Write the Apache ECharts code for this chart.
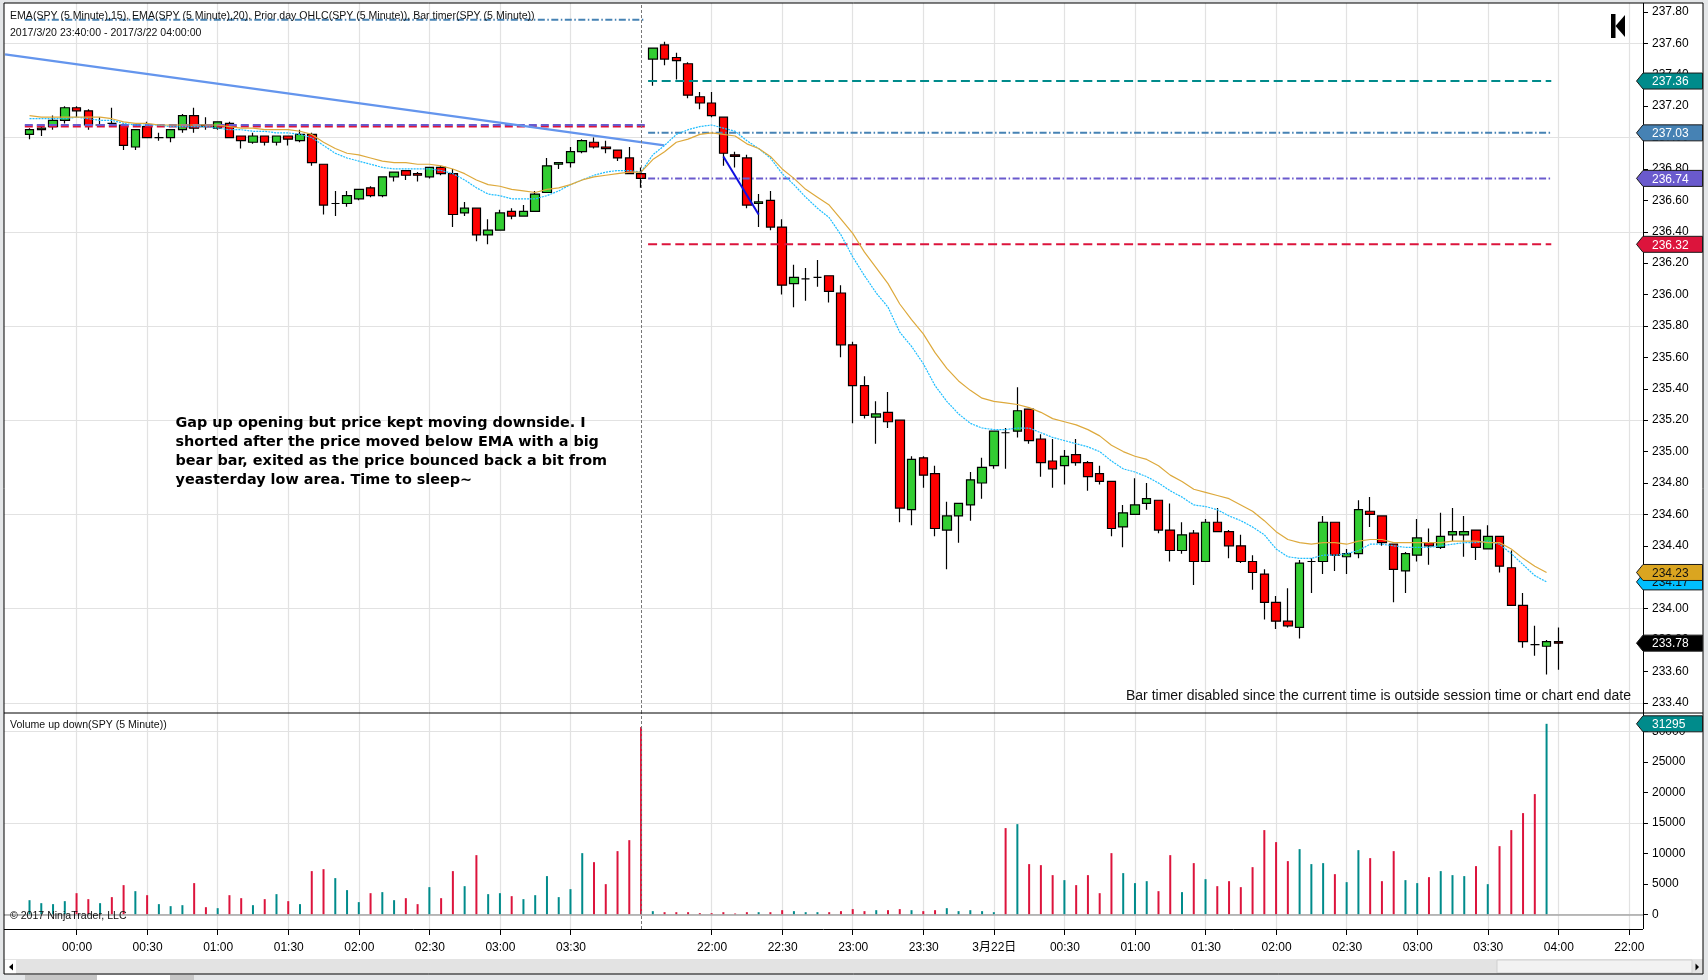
<!DOCTYPE html>
<html><head><meta charset="utf-8"><style>html,body{margin:0;padding:0;background:#E4E6E8}#c{width:1708px;height:980px}</style>
<script src="https://cdn.jsdelivr.net/npm/echarts@6/dist/echarts.min.js"></script></head>
<body><div id="c"></div>
<script>
const opens=[237.02,237.05,237.07,237.11,237.19,237.17,237.08,237.09,237.08,236.94,237.07,237.00,237.00,237.05,237.14,237.08,237.06,237.09,237.01,236.97,237.01,236.97,237.01,236.98,237.02,
236.83,236.58,236.58,236.61,236.68,236.63,236.75,236.79,236.77,236.75,236.81,236.77,236.52,236.55,236.38,236.41,236.53,236.50,236.53,236.65,236.83,236.84,236.91,236.97,236.94,236.92,236.87,236.77,
237.50,237.59,237.51,237.47,237.26,237.22,237.13,236.89,236.87,236.58,236.60,236.43,236.07,236.10,236.11,236.12,236.01,
235.68,235.42,235.22,235.25,235.20,234.63,234.96,234.86,234.50,234.59,234.66,234.80,234.91,235.12,235.13,235.27,235.08,234.94,234.91,234.98,234.93,234.86,234.81,234.52,234.60,234.67,234.69,234.50,234.37,234.48,234.30,234.55,234.49,234.40,234.30,
234.22,234.04,233.92,233.88,234.30,234.30,234.55,234.33,234.35,234.62,234.59,234.41,234.24,234.34,234.42,234.39,234.47,234.47,234.50,234.38,234.46,234.26,234.02,233.77,233.76,233.79];
const closes=[237.05,237.06,237.11,237.19,237.17,237.08,237.08,237.09,236.95,237.05,237.00,237.00,237.05,237.14,237.06,237.07,237.10,237.00,236.98,237.01,236.97,237.01,236.99,237.02,236.84,
236.57,236.58,236.63,236.67,236.63,236.75,236.78,236.76,236.76,236.81,236.77,236.51,236.55,236.38,236.41,236.52,236.50,236.53,236.64,236.82,236.84,236.91,236.98,236.94,236.93,236.87,236.77,236.74,
237.57,237.50,237.49,237.27,237.22,237.14,236.90,236.88,236.57,236.59,236.43,236.06,236.11,236.10,236.11,236.02,235.68,
235.42,235.23,235.24,235.19,234.64,234.95,234.85,234.51,234.59,234.67,234.82,234.90,235.13,235.12,235.26,235.07,234.93,234.89,234.97,234.93,234.84,234.81,234.51,234.61,234.66,234.70,234.50,234.37,234.47,234.30,234.55,234.49,234.40,234.30,234.23,
234.04,233.92,233.89,234.29,234.30,234.55,234.34,234.35,234.63,234.60,234.42,234.25,234.35,234.45,234.40,234.46,234.49,234.49,234.39,234.46,234.27,234.02,233.79,233.77,233.79,233.78];
const lows=[236.99,237.01,237.05,237.09,237.13,237.05,237.08,237.08,236.92,236.92,237.00,236.98,236.97,237.03,237.03,237.05,237.05,237.00,236.93,236.96,236.95,236.95,236.95,236.97,236.82,
236.51,236.50,236.56,236.60,236.62,236.62,236.72,236.73,236.72,236.74,236.76,236.43,236.50,236.34,236.32,236.41,236.48,236.50,236.53,236.65,236.80,236.81,236.90,236.93,236.90,236.85,236.77,236.68,
237.33,237.46,237.37,237.25,237.18,237.13,236.82,236.81,236.55,236.43,236.41,236.00,235.92,235.96,236.05,235.95,235.60,
235.18,235.21,235.05,235.15,234.55,234.53,234.77,234.46,234.25,234.42,234.56,234.70,234.89,234.89,235.09,235.05,234.84,234.77,234.79,234.91,234.75,234.79,234.46,234.39,234.60,234.63,234.48,234.30,234.35,234.15,234.30,234.49,234.32,234.29,234.12,
233.93,233.87,233.88,233.81,234.10,234.22,234.24,234.22,234.32,234.52,234.40,234.04,234.10,234.30,234.28,234.38,234.43,234.33,234.31,234.38,234.23,234.02,233.75,233.70,233.58,233.61];
const highs=[237.06,237.08,237.14,237.20,237.20,237.18,237.13,237.19,237.09,237.05,237.10,237.03,237.05,237.15,237.19,237.13,237.10,237.10,237.01,237.03,237.01,237.01,237.01,237.05,237.03,
236.83,236.66,236.66,236.67,236.69,236.75,236.78,236.79,236.78,236.81,236.82,236.80,236.59,236.55,236.48,236.54,236.55,236.57,236.66,236.87,236.84,236.94,236.99,237.00,236.98,236.92,236.94,236.81,
237.57,237.61,237.54,237.48,237.29,237.29,237.13,236.91,236.89,236.64,236.66,236.48,236.19,236.17,236.22,236.12,236.06,
235.70,235.48,235.32,235.38,235.20,234.97,234.97,234.91,234.68,234.67,234.87,234.96,235.13,235.15,235.41,235.27,235.11,235.08,235.01,235.08,234.94,234.91,234.81,234.66,234.83,234.80,234.69,234.67,234.55,234.50,234.57,234.64,234.50,234.47,234.34,
234.25,234.08,234.13,234.31,234.32,234.59,234.55,234.38,234.69,234.71,234.59,234.41,234.36,234.57,234.51,234.61,234.64,234.59,234.50,234.53,234.46,234.37,234.10,233.89,233.80,233.88];
const ema20=[237.14,237.13,237.13,237.13,237.13,237.13,237.13,237.12,237.10,237.09,237.09,237.08,237.08,237.08,237.08,237.08,237.08,237.07,237.06,237.06,237.05,237.05,237.05,237.04,237.02,
236.97,236.93,236.90,236.89,236.87,236.85,236.84,236.84,236.83,236.83,236.82,236.80,236.77,236.73,236.70,236.69,236.67,236.66,236.65,236.67,236.68,236.70,236.73,236.75,236.76,236.77,236.78,236.78,
236.86,236.91,236.97,236.99,237.02,237.03,237.02,237.01,236.96,236.93,236.88,236.80,236.74,236.67,236.62,236.57,236.48,236.39,236.27,236.17,236.07,235.94,235.84,
235.75,235.63,235.53,235.45,235.39,235.34,235.32,235.31,235.30,235.28,235.25,235.21,235.19,235.17,235.14,235.10,235.04,235.00,234.97,234.95,234.91,234.85,234.81,234.76,234.74,234.72,234.70,234.66,234.62,
234.56,234.49,234.44,234.42,234.41,234.42,234.42,234.41,234.43,234.44,234.44,234.42,234.42,234.42,234.42,234.42,234.43,234.43,234.43,234.42,234.42,234.38,234.32,234.27,234.23];
const ema15=[237.12,237.12,237.12,237.12,237.13,237.12,237.11,237.11,237.09,237.08,237.08,237.08,237.07,237.07,237.07,237.07,237.06,237.05,237.05,237.04,237.04,237.03,237.03,237.02,237.00,
236.95,236.90,236.87,236.85,236.83,236.81,236.80,236.80,236.80,236.80,236.79,236.77,236.73,236.68,236.64,236.63,236.61,236.61,236.61,236.63,236.66,236.70,236.73,236.76,236.78,236.79,236.79,236.78,
236.89,236.95,237.02,237.05,237.07,237.08,237.06,237.04,236.98,236.93,236.87,236.77,236.70,236.62,236.55,236.49,236.38,236.24,236.12,236.01,235.92,235.76,235.67,235.56,
235.42,235.32,235.24,235.18,235.15,235.14,235.14,235.15,235.15,235.12,235.09,235.07,235.05,235.03,235.00,234.94,234.89,234.87,234.84,234.80,234.75,234.71,234.66,234.65,234.63,234.59,234.56,234.52,
234.47,234.38,234.33,234.32,234.32,234.34,234.34,234.35,234.37,234.41,234.41,234.40,234.39,234.39,234.39,234.40,234.41,234.42,234.42,234.43,234.41,234.35,234.28,234.21,234.17];
const volumes=[2350,1860,1700,2190,3500,2520,1860,2850,4820,3830,3170,1700,1370,1530,5150,1200,1040,3170,2680,1530,2520,3340,2190,1700,
7120,7440,5970,4000,2030,3500,3670,2350,2680,1700,4490,2680,7120,4650,9740,3340,3500,3010,2520,3170,6300,2850,4160,10070,8590,4980,10400,12200,30760,
550,380,380,380,220,220,380,160,380,380,380,710,550,380,380,380,550,880,550,710,710,880,710,550,710,1040,550,710,550,380,
14180,14830,8270,8100,6460,5640,4820,6460,3500,10070,6790,5150,5470,3830,9740,3670,8430,5800,4650,5470,4490,7770,13850,11880,8760,10730,8270,8430,6620,5310,10560,9250,5470,10400,5640,5150,6130,7120,6460,6300,7940,4980,11220,13850,16640,19760,31295];
const volumeSides="uuuudduddu"+"duuudduddu"+"dududduuud"+"uudduddudu"+"uduuuuuudd"+"dddudddddd"+"ddudduuudd"+"dduddudduu"+"uuududddud"+"ddduuuddud"+"uddddddduu"+"uduuddduud"+"uuududdddu";
const timeTickIndex=[4,10,16,22,28,34,40,46,58,64,70,76,82,88,94,100,106,112,118,124,130,136];
const timeTickLabels=["00:00","00:30","01:00","01:30","02:00","02:30","03:00","03:30","22:00","22:30","23:00","23:30","3月22日","00:30","01:00","01:30","02:00","02:30","03:00","03:30","04:00","22:00"];
const priceTicks=[233.4,233.6,233.8,234.0,234.2,234.4,234.6,234.8,235.0,235.2,235.4,235.6,235.8,236.0,236.2,236.4,236.6,236.8,237.0,237.2,237.4,237.6,237.8];
const priceGrid=[233.4,234.0,234.6,235.2,235.8,236.4,237.0,237.6];
const volumeTicks=[0,5000,10000,15000,20000,25000,30000];
const volumeGrid=[0,15000,30000];
const sessionBreak=52;
const priorFirst=[-0.4,52.4], priorSecond=[52.6,129.4];
const priorHighOld=237.75, priorCloseOld=237.08, priorLowOld=237.07;
const priorOpen=237.36, priorHigh=237.03, priorClose=236.74, priorLow=236.32;
const trendLine=[[-2.08,237.53],[53.98,236.95]];
const tradeLine=[[59,236.88],[62,236.51]];
const priceTags=[[236.32,"236.32"],[236.74,"236.74"],[237.03,"237.03"],[237.36,"237.36"],[233.78,"233.78"],[234.17,"234.17"],[234.23,"234.23"]];
const tagStyles=[["#DC143C","#fff"],["#6A5ACD","#fff"],["#4682B4","#fff"],["#008B8B","#fff"],["#000","#fff"],["#00BFFF","#111"],["#DAA520","#111"]];
const volumeTag=[[31295,"31295"]];

const F="'Liberation Sans','Noto Sans CJK SC',sans-serif";
const rows=opens.map((o,i)=>[i,o,closes[i],lows[i],highs[i]]);
function hline(xs,v,color,dash,w){return {type:'line',xAxisIndex:0,yAxisIndex:0,data:[[xs[0],v],[xs[1],v]],symbol:'none',silent:true,lineStyle:{color:color,type:dash,width:w,cap:'butt'},z:3};}
const DASH=[9,4.6],DASH_OLD=[8,4],DD=[7,2.5,1.5,2.5];
function tagSeries(xa,ya,tags,styles,z){return {type:'custom',xAxisIndex:xa,yAxisIndex:ya,silent:true,z:z,clip:false,data:tags.map(t=>[0,t[0]]),encode:{x:0,y:1},
 renderItem:function(p,api){const i=p.dataIndex;const y=api.coord([0,api.value(1)])[1];const g=p.coordSys;const x0=g.x+g.width;const s=styles[i];
  return {type:'group',children:[{type:'polygon',shape:{points:[[x0-6.5,y],[x0,y-8],[x0+59.5,y-8],[x0+59.5,y+8],[x0,y+8]]},style:{fill:s[0],stroke:'#1a1a1a',lineWidth:1}},
  {type:'text',style:{text:tags[i][1],x:x0+9,y:y+1,fill:s[1],font:'12px '+F,verticalAlign:'middle',textAlign:'left'}}]};}};}
const chrome=[
 {type:'rect',shape:{x:4,y:3,width:1699,height:956},style:{fill:'#fff'},z:-10},
 {type:'rect',shape:{x:4,y:959,width:1699,height:15},style:{fill:'#E3E3E3'},z:-9},
 {type:'rect',shape:{x:5,y:960,width:11,height:14},style:{fill:'#fff'},z:-8},
 {type:'polygon',shape:{points:[[9,967],[13,963.5],[13,970.5]]},style:{fill:'#000'},z:-7},
 {type:'rect',shape:{x:1497,y:960,width:195,height:13},style:{fill:'#F2F2F2',stroke:'#CFCFCF',lineWidth:1},z:-8},
 {type:'polygon',shape:{points:[[1699,967],[1695.5,963.5],[1695.5,970.5]]},style:{fill:'#000'},z:-7},
 {type:'rect',shape:{x:25,y:975,width:72,height:5},style:{fill:'#C6C6C6'},z:-8},
 {type:'rect',shape:{x:97,y:975,width:73,height:5},style:{fill:'#fff'},z:-8},
 {type:'rect',shape:{x:170,y:975,width:24,height:5},style:{fill:'#C6C6C6'},z:-8},
 {type:'rect',shape:{x:4,y:3,width:1699,height:971},style:{fill:'none',stroke:'#000',lineWidth:1},z:6},
 {type:'line',shape:{x1:4,y1:713,x2:1703,y2:713},style:{stroke:'#000',lineWidth:1},z:6},
 {type:'line',shape:{x1:4,y1:929.5,x2:1643,y2:929.5},style:{stroke:'#000',lineWidth:1},z:6},
 {type:'line',shape:{x1:1643.5,y1:3,x2:1643.5,y2:929},style:{stroke:'#000',lineWidth:1},z:6},
 {type:'rect',shape:{x:1611,y:14,width:4.5,height:24},style:{fill:'#000'},z:6},
 {type:'polygon',shape:{points:[[1615.5,26],[1625,15],[1625,37]]},style:{fill:'#000'},z:6},
 {type:'text',x:10,y:16,scaleX:0.96,style:{text:'EMA(SPY (5 Minute),15), EMA(SPY (5 Minute),20), Prior day OHLC(SPY (5 Minute)), Bar timer(SPY (5 Minute))',font:'11px '+F,fill:'#111',verticalAlign:'middle'},z:7},
 {type:'text',x:10,y:33,scaleX:0.96,style:{text:'2017/3/20 23:40:00 - 2017/3/22 04:00:00',font:'11px '+F,fill:'#111',verticalAlign:'middle'},z:7},
 {type:'text',x:10,y:725,scaleX:0.96,style:{text:'Volume up down(SPY (5 Minute))',font:'11px '+F,fill:'#111',verticalAlign:'middle'},z:7},
 {type:'text',x:10,y:916,scaleX:0.96,style:{text:'© 2017 NinjaTrader, LLC',font:'11px '+F,fill:'#111',verticalAlign:'middle'},z:7},
 {type:'text',x:175.5,y:414,style:{text:'Gap up opening but price kept moving downside. I\nshorted after the price moved below EMA with a big\nbear bar, exited as the price bounced back a bit from\nyeasterday low area. Time to sleep~',font:'bold 14.4px "DejaVu Sans"',lineHeight:19,fill:'#000'},z:7},
 {type:'text',x:1631,y:696,style:{text:'Bar timer disabled since the current time is outside session time or chart end date',font:'14px '+F,fill:'#111',textAlign:'right',verticalAlign:'middle'},z:7}
];
const gridLine={show:true,lineStyle:{color:'#E2E2E2',width:1.2}};
const noLine={show:false,onZero:false};
const opt={animation:false,backgroundColor:'#E4E6E8',
 graphic:{elements:chrome},
 grid:[{left:4,top:3,width:1639,height:710},{left:4,top:713,width:1639,height:216}],
 xAxis:[
  {type:'value',gridIndex:0,min:-2.17,max:137.2,axisLine:noLine,axisLabel:{show:false},axisTick:{show:false,customValues:timeTickIndex},splitLine:gridLine},
  {type:'value',gridIndex:1,min:-2.17,max:137.2,axisLine:noLine,axisTick:{show:true,length:6,inside:false,lineStyle:{color:'#000'},customValues:timeTickIndex},
   axisLabel:{show:true,customValues:timeTickIndex,margin:13,padding:[0,0,0,1],color:'#000',fontFamily:F,fontSize:12,formatter:v=>{const k=timeTickIndex.indexOf(Math.round(v));return k<0?'':timeTickLabels[k];}},splitLine:gridLine}
 ],
 yAxis:[
  {type:'value',gridIndex:0,position:'right',min:233.335,max:237.857,axisLine:noLine,splitLine:{show:false},
   axisTick:{show:true,length:5,lineStyle:{color:'#000'},customValues:priceTicks},axisLabel:{show:true,customValues:priceTicks,margin:9,padding:[4,0,0,0],color:'#000',fontFamily:F,fontSize:12,formatter:v=>v.toFixed(2)}},
  {type:'value',gridIndex:0,position:'right',min:233.335,max:237.857,axisLine:noLine,axisLabel:{show:false},axisTick:{show:false,customValues:priceGrid},splitLine:gridLine},
  {type:'value',gridIndex:1,position:'right',min:-2380,max:33070,axisLine:noLine,splitLine:{show:false},
   axisTick:{show:true,length:5,lineStyle:{color:'#000'},customValues:volumeTicks},axisLabel:{show:true,customValues:volumeTicks,margin:9,padding:[4,0,0,0],color:'#000',fontFamily:F,fontSize:12,formatter:v=>String(v)}},
  {type:'value',gridIndex:1,position:'right',min:-2380,max:33070,axisLine:noLine,axisLabel:{show:false},axisTick:{show:false,customValues:volumeGrid},splitLine:gridLine}
 ],
 series:[
  {type:'candlestick',xAxisIndex:0,yAxisIndex:0,data:rows,encode:{x:0,y:[1,2,3,4]},barWidth:9,silent:true,
   itemStyle:{color:'#32CD32',color0:'#FF0000',borderColor:'#000',borderColor0:'#000',borderColorDoji:'#000',borderWidth:1.2},z:2,
   markLine:{silent:true,symbol:'none',label:{show:false},lineStyle:{color:'#777',type:[3,2],width:1},data:[{xAxis:sessionBreak}]}},
  {type:'line',xAxisIndex:0,yAxisIndex:0,data:ema15.map((v,i)=>[i,v]),symbol:'none',silent:true,lineStyle:{color:'#1FBEFF',width:1.2,type:[2,1]},z:4},
  {type:'line',xAxisIndex:0,yAxisIndex:0,data:ema20.map((v,i)=>[i,v]),symbol:'none',silent:true,lineStyle:{color:'#DDA93C',width:1.2},z:4},
  hline(priorFirst,priorHighOld,'#4682B4',DD,2),
  hline(priorFirst,priorLowOld,'#DC143C',DASH_OLD,2),
  hline(priorFirst,priorCloseOld,'#6A5ACD',DASH_OLD,2),
  hline(priorSecond,priorOpen,'#008B8B',DASH,2),
  hline(priorSecond,priorHigh,'#4682B4',DD,2),
  hline(priorSecond,priorClose,'#6A5ACD',DD,2),
  hline(priorSecond,priorLow,'#DC143C',DASH,2),
  {type:'line',xAxisIndex:0,yAxisIndex:0,data:trendLine,symbol:'none',silent:true,lineStyle:{color:'#6495ED',width:2.2},z:3},
  {type:'line',xAxisIndex:0,yAxisIndex:0,data:tradeLine,symbol:'none',silent:true,lineStyle:{color:'#1010E0',width:2},z:5},
  {type:'bar',xAxisIndex:1,yAxisIndex:2,data:volumes.map((v,i)=>[i,v]),encode:{x:0,y:1},barWidth:2,silent:true,
   itemStyle:{color:p=>volumeSides[p.dataIndex]==='d'?'#DC143C':'#008B8B'},z:2,
   markLine:{silent:true,symbol:'none',label:{show:false},data:[
    {yAxis:0,lineStyle:{color:'#A6A6A6',type:'solid',width:1.5}},
    {xAxis:sessionBreak,lineStyle:{color:'#777',type:[3,2],width:1}}]}},
  tagSeries(0,0,priceTags,tagStyles,8),
  tagSeries(1,2,volumeTag,[["#008B8B","#fff"]],8)
 ]};
echarts.init(document.getElementById('c')).setOption(opt);
</script></body></html>
